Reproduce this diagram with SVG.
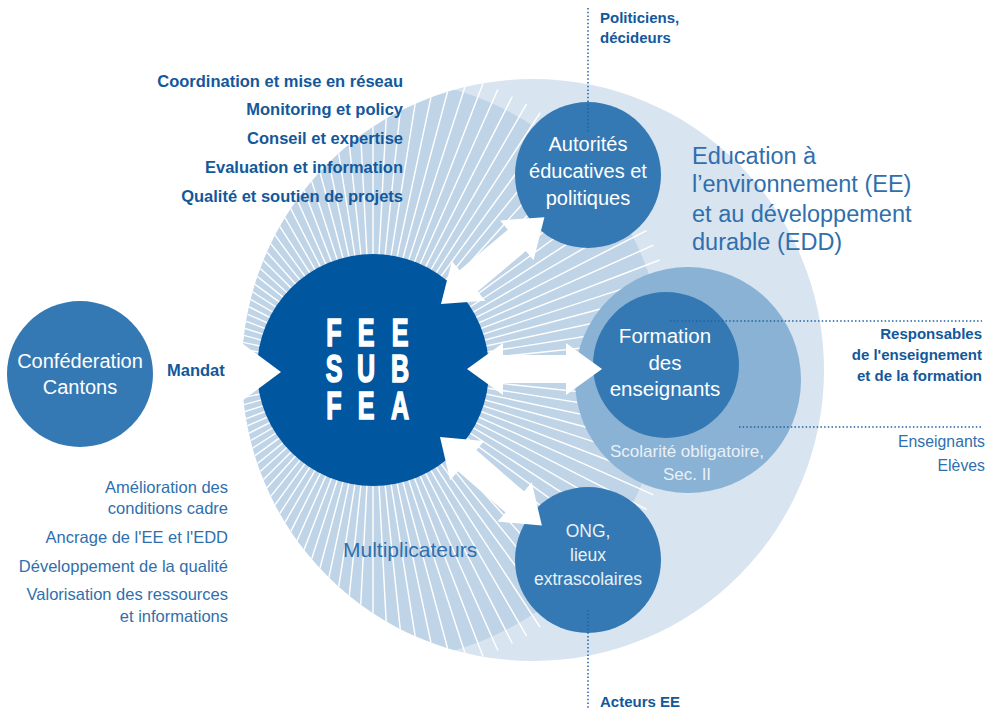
<svg xmlns="http://www.w3.org/2000/svg" xmlns:xlink="http://www.w3.org/1999/xlink" width="998" height="710" viewBox="0 0 998 710">
<style>
.bold{font-family:"Liberation Sans",Arial,sans-serif;font-weight:bold;fill:#13589b}
.reg{font-family:"Liberation Sans",Arial,sans-serif;fill:#2f6fad}
.wt{font-family:"Liberation Sans",Arial,sans-serif;fill:#ffffff;text-anchor:middle}
.big{font-family:"Liberation Sans","DejaVu Sans",sans-serif;font-weight:bold;font-size:38px;fill:#ffffff;stroke:#ffffff;stroke-width:1.6;text-anchor:middle}
.dot{stroke:#1f62a5;stroke-width:1.5;stroke-dasharray:1.5 2.2;fill:none}
.arrow{fill:#ffffff}
.node{fill:#3479b3}
</style>
<defs>
<clipPath id="bigclip"><circle cx="533" cy="370" r="291"/></clipPath>
<line id="ray" x1="480" y1="370" x2="680" y2="370" stroke="#ffffff" stroke-width="1.4"/>
<g id="ray10">
<use xlink:href="#ray"/>
<use xlink:href="#ray" transform="rotate(3 373 370)"/>
<use xlink:href="#ray" transform="rotate(6 373 370)"/>
<use xlink:href="#ray" transform="rotate(9 373 370)"/>
<use xlink:href="#ray" transform="rotate(12 373 370)"/>
<use xlink:href="#ray" transform="rotate(15 373 370)"/>
<use xlink:href="#ray" transform="rotate(18 373 370)"/>
<use xlink:href="#ray" transform="rotate(21 373 370)"/>
<use xlink:href="#ray" transform="rotate(24 373 370)"/>
<use xlink:href="#ray" transform="rotate(27 373 370)"/>
</g>
<polygon id="dbl" points="0,0 36,-26 36,-14 99,-14 99,-26 135,0 99,26 99,14 36,14 36,26"/>
</defs>

<g id="ee-edd">
<circle cx="533" cy="370" r="291" fill="#d8e4f0"/>
<text class="reg" font-size="23.5" x="692" y="164">Education à</text>
<text class="reg" font-size="23.5" x="692" y="192">l’environnement (EE)</text>
<text class="reg" font-size="23.5" x="692" y="222">et au développement</text>
<text class="reg" font-size="23.5" x="692" y="250">durable (EDD)</text>
</g>

<g id="multiplicateurs">
<g clip-path="url(#bigclip)">
<circle cx="373" cy="370" r="292" fill="#c0d4e7"/>
<use xlink:href="#ray10"/>
<use xlink:href="#ray10" transform="rotate(30 373 370)"/>
<use xlink:href="#ray10" transform="rotate(60 373 370)"/>
<use xlink:href="#ray10" transform="rotate(90 373 370)"/>
<use xlink:href="#ray10" transform="rotate(120 373 370)"/>
<use xlink:href="#ray10" transform="rotate(150 373 370)"/>
<use xlink:href="#ray10" transform="rotate(180 373 370)"/>
<use xlink:href="#ray10" transform="rotate(210 373 370)"/>
<use xlink:href="#ray10" transform="rotate(240 373 370)"/>
<use xlink:href="#ray10" transform="rotate(270 373 370)"/>
<use xlink:href="#ray10" transform="rotate(300 373 370)"/>
<use xlink:href="#ray10" transform="rotate(330 373 370)"/>
</g>
<text class="reg" font-size="21" x="343" y="557">Multiplicateurs</text>
</g>

<g id="fee">
<circle cx="373" cy="370" r="116" fill="#0156a0"/>
<polygon points="200,312 281,372 200,432" fill="#ffffff"/>
<g transform="translate(334,0) scale(0.66,1)"><text class="big" x="0" y="346">F</text><text class="big" x="0" y="382">S</text><text class="big" x="0" y="419">F</text></g>
<g transform="translate(366,0) scale(0.66,1)"><text class="big" x="0" y="346">E</text><text class="big" x="0" y="382">U</text><text class="big" x="0" y="419">E</text></g>
<g transform="translate(400,0) scale(0.66,1)"><text class="big" x="0" y="346">E</text><text class="big" x="0" y="382">B</text><text class="big" x="0" y="419">A</text></g>
</g>

<g id="formation">
<circle cx="688" cy="380" r="113" fill="#8ab2d5"/>
<circle cx="666" cy="365" r="73" class="node"/>
<text class="wt" font-size="20.5" x="665" y="343">Formation</text>
<text class="wt" font-size="20.5" x="665" y="370">des</text>
<text class="wt" font-size="20.5" x="665" y="396">enseignants</text>
<text class="wt" font-size="17" x="687" y="457" style="fill:#e8f0f8">Scolarité obligatoire,</text>
<text class="wt" font-size="17" x="687" y="480" style="fill:#e8f0f8">Sec. II</text>
</g>

<g id="autorites">
<circle cx="588" cy="175" r="73" class="node"/>
<text class="wt" font-size="20" x="588" y="151">Autorités</text>
<text class="wt" font-size="20" x="588" y="178">éducatives et</text>
<text class="wt" font-size="20" x="588" y="205">politiques</text>
</g>

<g id="ong">
<circle cx="588" cy="560" r="73" class="node"/>
<text class="wt" font-size="17.5" x="588" y="537" style="fill:#e8f0f8">ONG,</text>
<text class="wt" font-size="17.5" x="588" y="561" style="fill:#e8f0f8">lieux</text>
<text class="wt" font-size="17.5" x="588" y="585" style="fill:#e8f0f8">extrascolaires</text>
</g>

<g id="confederation">
<circle cx="80" cy="374" r="73" class="node"/>
<text class="wt" font-size="20" x="80" y="368">Conféderation</text>
<text class="wt" font-size="20" x="80" y="394">Cantons</text>
</g>

<g id="connectors">
<use xlink:href="#dbl" class="arrow" transform="translate(467,369)"/>
<use xlink:href="#dbl" class="arrow" transform="translate(441,304) rotate(-40)"/>
<use xlink:href="#dbl" class="arrow" transform="translate(440,437) rotate(41)"/>
<line class="dot" x1="588" y1="8" x2="588" y2="132"/>
<line class="dot" x1="588" y1="610" x2="588" y2="710"/>
<line class="dot" x1="670" y1="321" x2="982" y2="321"/>
<line class="dot" x1="739" y1="427" x2="982" y2="427"/>
</g>

<g id="labels">
<text class="bold" font-size="16.5" text-anchor="end" x="403" y="87">Coordination et mise en réseau</text>
<text class="bold" font-size="16.5" text-anchor="end" x="403" y="115">Monitoring et policy</text>
<text class="bold" font-size="16.5" text-anchor="end" x="403" y="144">Conseil et expertise</text>
<text class="bold" font-size="16.5" text-anchor="end" x="403" y="173">Evaluation et information</text>
<text class="bold" font-size="16.5" text-anchor="end" x="403" y="202">Qualité et soutien de projets</text>
<text class="bold" font-size="16.5" x="167" y="376">Mandat</text>
<text class="reg" font-size="16.5" text-anchor="end" x="228" y="493">Amélioration des</text>
<text class="reg" font-size="16.5" text-anchor="end" x="228" y="514">conditions cadre</text>
<text class="reg" font-size="16.5" text-anchor="end" x="228" y="543">Ancrage de l'EE et l'EDD</text>
<text class="reg" font-size="16.5" text-anchor="end" x="228" y="572">Développement de la qualité</text>
<text class="reg" font-size="16.5" text-anchor="end" x="228" y="600">Valorisation des ressources</text>
<text class="reg" font-size="16.5" text-anchor="end" x="228" y="622">et informations</text>
<text class="bold" font-size="15" x="600" y="23">Politiciens,</text>
<text class="bold" font-size="15" x="600" y="43">décideurs</text>
<text class="bold" font-size="15" x="600" y="707">Acteurs EE</text>
<text class="bold" font-size="15" text-anchor="end" x="982" y="339">Responsables</text>
<text class="bold" font-size="15" text-anchor="end" x="982" y="360">de l'enseignement</text>
<text class="bold" font-size="15" text-anchor="end" x="982" y="381">et de la formation</text>
<text class="reg" font-size="15.8" text-anchor="end" x="985" y="447">Enseignants</text>
<text class="reg" font-size="15.8" text-anchor="end" x="985" y="471">Elèves</text>
</g>
</svg>
